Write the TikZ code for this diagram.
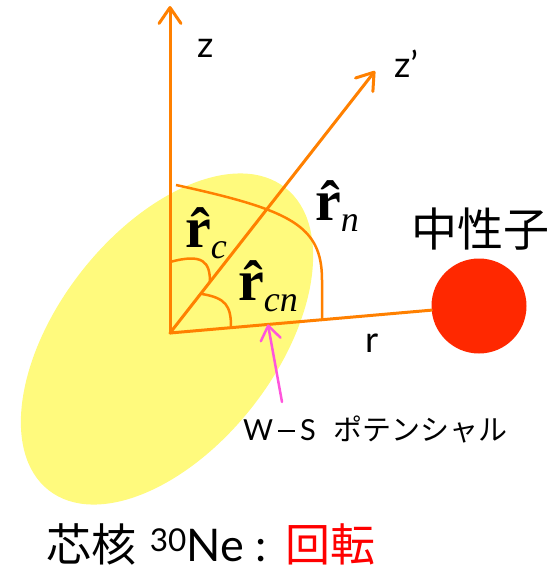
\documentclass[tikz,border=0pt]{standalone}
\usepackage{fontspec}
\setsansfont{Lato}
\newfontfamily\jp{Noto Sans CJK JP}
\newfontfamily\tms{Liberation Serif}
\usetikzlibrary{arrows.meta,calc}
\definecolor{axiscol}{RGB}{255,128,0}
\definecolor{corecol}{RGB}{255,250,125}
\definecolor{neutcol}{RGB}{255,40,0}
\definecolor{wscol}{RGB}{255,85,220}
\newcommand\unitvec[1]{{\tms\bfseries\^{r}}\raisebox{-0.2em}{\fontsize{36}{38}\selectfont\tms\itshape #1}}
\begin{document}
\begin{tikzpicture}[x=1pt,y=-1pt,
  axisline/.style={draw=axiscol,line width=3pt,line cap=round,
    -{Straight Barb[round,length=16pt,width=22pt]}},
  plainline/.style={draw=axiscol,line width=3pt,line cap=round},
  anglearc/.style={draw=axiscol,line width=2.5pt},
  wsarrow/.style={draw=wscol,line width=2.5pt,line cap=round,
    -{Straight Barb[round,length=14pt,width=20pt]}},
  vlabel/.style={inner sep=0pt,anchor=base west,font=\fontsize{58}{60}\selectfont},
  axlabel/.style={inner sep=0pt,anchor=base west,font=\sffamily\fontsize{36}{40}\selectfont},
]
\useasboundingbox (0,0) rectangle (556,570);
% core ellipse
\fill[corecol] (167,339) ellipse[x radius=192,y radius=109,rotate=52];
% origin and axis ends
\coordinate (O) at (170,333);
\coordinate (ztip) at (170,6);
\coordinate (zptip) at (375,71);
\node[circle,fill=neutcol,inner sep=0pt,minimum size=95pt] (n) at (479,306) {};
% axes
\draw[axisline] (O) -- (ztip);
\draw[axisline] (O) -- (zptip);
\draw[plainline] (O) -- (n);
% angle arcs
\draw[anglearc] (176,185) .. controls (290,210) and (322,225) .. (322,280) -- (322,320);
\draw[anglearc] (170,262) .. controls (203,253) and (210,262) .. (210,282);
\draw[anglearc] (202,294) .. controls (226,298) and (231,306) .. (231,327);
% W-S arrow
\coordinate (wsfrom) at (282,402);
\coordinate (wsto) at ($(O)!0.317!(n.center)$);
\draw[wsarrow] (wsfrom) -- (wsto);
% labels
\node[vlabel] (rc) at (185,247) {\unitvec{c}};
\node[vlabel] (rcn) at (238,300) {\unitvec{cn}};
\node[vlabel] (rn) at (315,220) {\unitvec{n}};
\node[axlabel] (zl) at (197,57) {z};
\node[axlabel] (zpl) at (394,77) {z’};
\node[axlabel] (rl) at (365,352) {r};
\node[inner sep=0pt,font=\jp\fontsize{46}{50}\selectfont] (nl) at (480,229) {中性子};
\node[inner sep=0pt,anchor=base west,font=\fontsize{29}{32}\selectfont] (ws) at (243,440)
  {\sffamily W\kern5pt\rule[8pt]{17pt}{1.6pt}\kern5pt S\hspace{18pt}\jp ポテンシャル};
\node[inner sep=0pt,anchor=base west,font=\fontsize{45}{50}\selectfont] (core) at (46,561)
  {{\jp 芯核} {\sffamily\textsuperscript{30}Ne :} {\jp\color{red}回転}};
\end{tikzpicture}
\end{document}
